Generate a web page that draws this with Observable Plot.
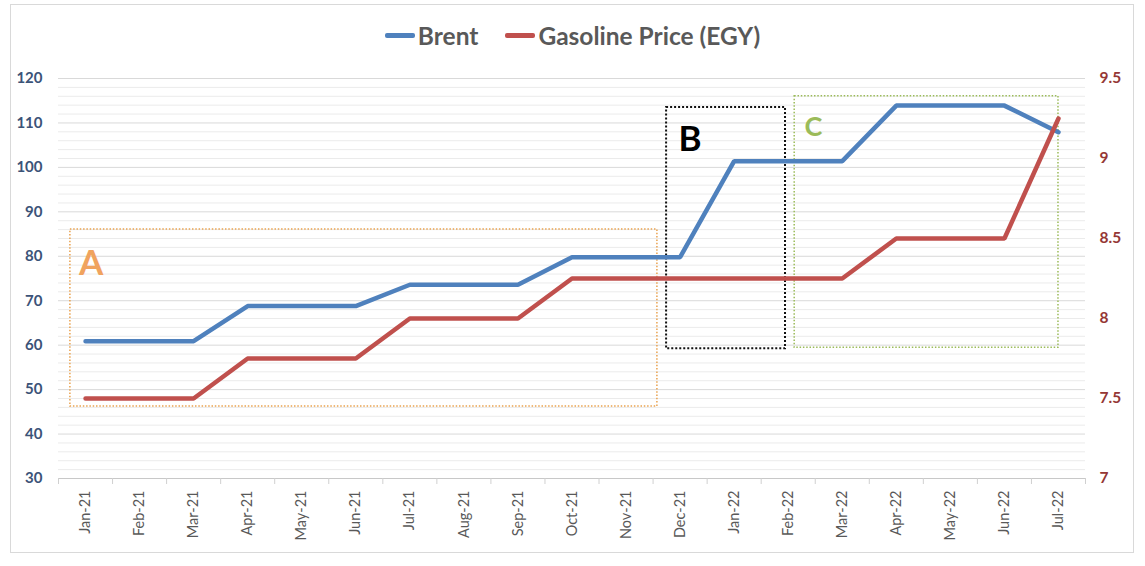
<!DOCTYPE html>
<html>
<head>
<meta charset="utf-8">
<script src="https://cdn.jsdelivr.net/npm/d3@7"></script>
<script src="https://cdn.jsdelivr.net/npm/@observablehq/plot@0.6"></script>
<style>
  html, body { margin: 0; padding: 0; background: #fff; }
  body { width: 1145px; height: 566px; position: relative; overflow: hidden; font-family: Lato, "Open Sans", sans-serif; }
  #frame { position: absolute; left: 10px; top: 4px; width: 1124px; height: 549px; border: 1px solid #d9d9d9; box-sizing: border-box; }
  #legend { position: absolute; top: 21px; left: 0; width: 1145px; display: flex; justify-content: center; align-items: center; gap: 27px; font-weight: 700; font-size: 24.5px; color: #595959; }
  .item { display: flex; align-items: center; gap: 3px; }
  .sw { width: 30px; height: 5px; border-radius: 2px; display: inline-block; }
  #chart { position: absolute; left: 0; top: 58px; }
</style>
</head>
<body>
<div id="frame"></div>
<div id="legend"></div>
<div id="chart"></div>
<script>
// ---- data ----
const months = ["Jan-21","Feb-21","Mar-21","Apr-21","May-21","Jun-21","Jul-21","Aug-21","Sep-21","Oct-21","Nov-21","Dec-21","Jan-22","Feb-22","Mar-22","Apr-22","May-22","Jun-22","Jul-22"];
const brent = [60.9,60.9,60.9,68.8,68.8,68.8,73.6,73.6,73.6,79.8,79.8,79.8,101.4,101.4,101.4,113.9,113.9,113.9,107.9];
const gasoline = [7.5,7.5,7.5,7.75,7.75,7.75,8,8,8,8.25,8.25,8.25,8.25,8.25,8.25,8.5,8.5,8.5,9.25];
const leftTicks = [30,40,50,60,70,80,90,100,110,120];
const rightTicks = [7,7.5,8,8.5,9,9.5];
const seriesNames = ["Brent","Gasoline Price (EGY)"];
// annotation regions (x in month index, y in Brent units)
const regionLabels = ["A","B","C"];
const regionX1 = [-0.28, 10.75, 13.12];
const regionX2 = [10.58, 12.95, 18.0];
const regionY1 = [46.2, 59.2, 59.4];
const regionY2 = [86.0, 113.5, 116.0];
const labelX = [-0.12, 10.97, 13.3];
const labelY = [75.9, 103.6, 107.0];

// ---- styles ----
const colors = {"Brent": "#4F81BD", "Gasoline Price (EGY)": "#C0504D"};
const regionStroke = {A: "#E9A24F", B: "#111111", C: "#9BBB59"};
const regionText = {A: "#F0A35E", B: "#000000", C: "#9BBB59"};
const regionDash = {A: "1.5,1.8", B: "2,2", C: "1.5,1.8"};
const regionWidth = {A: 1.5, B: 2, C: 1.5};
const regionFont = {A: 35, B: 35, C: 27};

// secondary axis mapping: gasoline [7, 9.5] -> brent [30, 120]
const toLeft = g => 30 + (g - 7) * 36;
const fromLeft = b => (b - 30) / 36 + 7;

// legend
const legend = document.getElementById("legend");
for (const s of seriesNames) {
  const it = document.createElement("div");
  it.className = "item";
  const sw = document.createElement("span");
  sw.className = "sw";
  sw.style.background = colors[s];
  const tx = document.createElement("span");
  tx.textContent = s;
  it.appendChild(sw); it.appendChild(tx);
  legend.appendChild(it);
}

const regions = regionLabels.map((l, i) => ({label: l, x1: regionX1[i], x2: regionX2[i], y1: regionY1[i], y2: regionY2[i], lx: labelX[i], ly: labelY[i]}));
const minorGrid = d3.range(30, 121, 2).filter(v => v % 10 !== 0);
const majorGrid = leftTicks.filter(v => v !== 30);
const boundaries = d3.range(months.length + 1).map(i => i - 0.5);
const idx = d3.range(months.length);

const plot = Plot.plot({
  width: 1145,
  height: 490,
  marginLeft: 58,
  marginRight: 60,
  marginTop: 20,
  marginBottom: 70,
  style: {fontFamily: "Lato, 'Open Sans', sans-serif", background: "transparent"},
  x: {type: "linear", domain: [-0.5, months.length - 0.5]},
  y: {domain: [30, 120]},
  marks: [
    Plot.ruleY(minorGrid, {stroke: "#ebebeb", strokeWidth: 1}),
    Plot.ruleY(majorGrid, {stroke: "#d9d9d9", strokeWidth: 1}),
    Plot.ruleY([30], {stroke: "#c8c8c8", strokeWidth: 1}),
    Plot.axisX({ticks: boundaries, tickFormat: () => "", tickSize: 6, stroke: "#d0d0d0"}),
    Plot.axisX({ticks: idx, tickFormat: i => months[i], tickSize: 0, tickPadding: 12, tickRotate: -90, fontSize: 14.5, fill: "#595959", label: null}),
    Plot.axisY({anchor: "left", ticks: leftTicks, tickSize: 0, tickPadding: 16, fontSize: 15, fontWeight: "bold", fill: "#3B5378", label: null}),
    Plot.axisY({anchor: "right", ticks: rightTicks.map(toLeft), tickFormat: d => String(+fromLeft(d).toFixed(2)), tickSize: 0, tickPadding: 14, fontSize: 15.5, fontWeight: "bold", fill: "#953735", label: null}),
    Plot.rect(regions, {x1: "x1", x2: "x2", y1: "y1", y2: "y2", fill: "none",
      stroke: d => regionStroke[d.label], strokeWidth: d => regionWidth[d.label]}),
    Plot.line(brent, {x: (d, i) => i, y: d => d, stroke: colors["Brent"], strokeWidth: 4.5, strokeLinejoin: "miter", strokeLinecap: "round"}),
    Plot.line(gasoline, {x: (d, i) => i, y: d => toLeft(d), stroke: colors["Gasoline Price (EGY)"], strokeWidth: 4.5, strokeLinejoin: "miter", strokeLinecap: "round"}),
    ...regions.map(r => Plot.text([r], {x: "lx", y: "ly", text: "label", textAnchor: "start", lineAnchor: "bottom",
      fontSize: regionFont[r.label], fontWeight: "bold", fill: regionText[r.label]}))
  ]
});

// set dash styles per region rect
const rects = plot.querySelectorAll("g[aria-label='rect'] rect");
rects.forEach((el, i) => {
  const l = regions[i].label;
  el.setAttribute("stroke-dasharray", regionDash[l]);
  el.setAttribute("stroke", regionStroke[l]);
  el.setAttribute("stroke-width", regionWidth[l]);
});
document.getElementById("chart").appendChild(plot);
</script>
</body>
</html>
